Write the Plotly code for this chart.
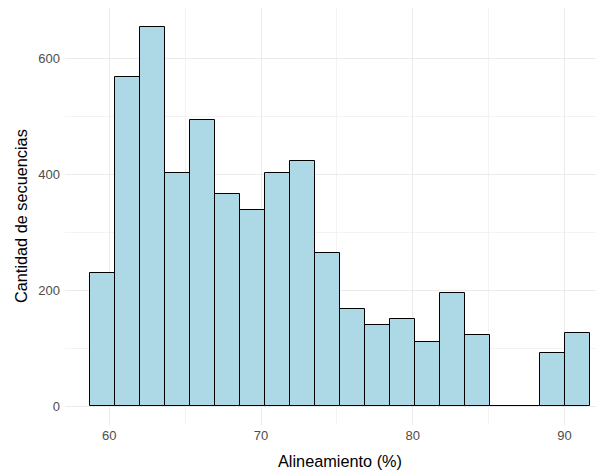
import plotly.graph_objects as go

# Histogram data (bin centers, common bin width, counts)
bin_first_left = 58.73
bin_width = 1.649
counts = [230, 569, 655, 403, 495, 367, 338, 403, 424, 264,
          167, 140, 151, 110, 195, 122, 0, 0, 91, 127]
bin_centers = [bin_first_left + bin_width * (i + 0.5) for i in range(len(counts))]

x_ticks = [60, 70, 80, 90]
y_ticks = [0, 200, 400, 600]
x_title = "Alineamiento (%)"
y_title = "Cantidad de secuencias"

grid_major = "#EBEBEB"
grid_minor = "#F3F3F3"
tick_color = "#4D4D4D"
font_family = "Liberation Sans, Arial, sans-serif"
tick_size = 13
title_size = 16.3

# the page body has an 8px margin: the figure starts at (8, 8) in the window
OFF = 8
W, H = 604 - OFF, 471 - OFF
ml, mr, mt, mb = 65 - OFF, 0, 0, 46

fig = go.Figure()
fig.add_trace(go.Bar(
    x=bin_centers,
    y=counts,
    width=[bin_width] * len(counts),
    marker=dict(color="#ADD8E6", line=dict(color="#000000", width=1)),
    showlegend=False,
))

ymax = max(counts)
pw = W - ml - mr
ph = H - mt - mb
fig.update_layout(
    width=W, height=H,
    margin=dict(l=ml, r=mr, t=mt, b=mb, pad=0),
    plot_bgcolor="white", paper_bgcolor="white",
    bargap=0,
    font=dict(family=font_family, color=tick_color, size=tick_size),
    xaxis=dict(
        range=[57.08, 92.61],
        tickvals=x_ticks,
        ticktext=[str(v) for v in x_ticks],
        showgrid=True, gridcolor=grid_major, gridwidth=1,
        zeroline=False, showline=False, ticks="",
        tickfont=dict(size=tick_size, color=tick_color, family=font_family),
        ticklabelstandoff=1,
        minor=dict(tickvals=[65, 75, 85], showgrid=True, gridcolor=grid_minor, gridwidth=1),
    ),
    yaxis=dict(
        range=[-0.05 * ymax, 1.05 * ymax],
        tickvals=y_ticks,
        ticktext=[str(v) for v in y_ticks],
        showgrid=True, gridcolor=grid_major, gridwidth=1,
        zeroline=False, showline=False, ticks="",
        tickfont=dict(size=tick_size, color=tick_color, family=font_family),
        ticklabelstandoff=4,
        minor=dict(tickvals=[100, 300, 500], showgrid=True, gridcolor=grid_minor, gridwidth=1),
    ),
    annotations=[
        dict(text=x_title, xref="paper", yref="paper",
             x=(340 - OFF - ml) / pw, y=-((461.5 - OFF) - (H - mb)) / ph,
             xanchor="center", yanchor="middle", showarrow=False,
             font=dict(size=title_size, color="#000000", family=font_family)),
        dict(text=y_title, xref="paper", yref="paper",
             x=-(ml - (21 - OFF)) / pw, y=((H - mb) - (216 - OFF)) / ph,
             xanchor="center", yanchor="middle", textangle=-90, showarrow=False,
             font=dict(size=title_size, color="#000000", family=font_family)),
    ],
)

fig.write_html("out.html")
